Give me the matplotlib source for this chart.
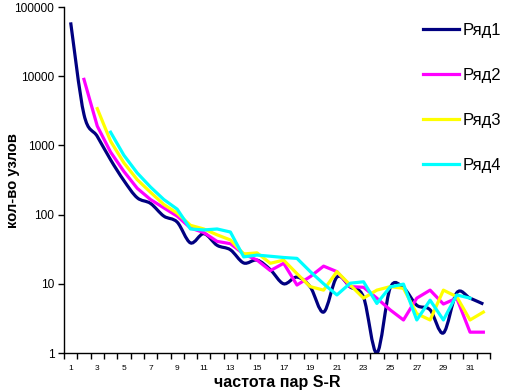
import numpy as np
import matplotlib
matplotlib.use("Agg")
import matplotlib.pyplot as plt
from matplotlib.path import Path
from matplotlib.patches import PathPatch
from matplotlib.lines import Line2D

categories = list(range(1, 33))
tick_labels = [str(k) for k in range(1, 32, 2)]

s1_x = list(range(1, 33))
s1 = [60000, 2800, 1350, 620, 310, 175, 145, 95, 78, 39, 53, 36, 31, 20, 22, 16,
      10, 12.5, 9, 3.9, 12.5, 9, 6.4, 1, 8.7, 8.7, 4.9, 4.2, 1.95, 7.4, 6.2, 5.1]
s2_x = list(range(2, 33))
s2 = [9000, 1900, 800, 420, 240, 165, 125, 95, 64, 55, 41, 38, 27, 22, 15.5,
      19.8, 9.6, 12.7, 18, 15, 9.1, 8.9, 6.2, 4.2, 3.0, 6.2, 8.1, 5.1, 6.2, 2.0, 2.0]
s3_x = list(range(3, 33))
s3 = [3400, 1150, 560, 320, 210, 140, 105, 70, 62, 51, 43, 27, 28, 19.8, 22,
      14, 9.1, 8.1, 15, 9.6, 6.2, 8.1, 9.1, 8.6, 3.7, 3.0, 8.1, 6.5, 3.0, 3.9]
s4_x = list(range(4, 32))
s4 = [1550, 720, 400, 250, 165, 120, 62, 60, 62, 56, 24.5, 26, 25, 24, 23.3,
      15, 10, 6.9, 10.2, 10.7, 5.2, 9.0, 9.9, 3.0, 5.8, 3.0, 6.9, 6.2]

names = ["Ряд1", "Ряд2", "Ряд3", "Ряд4"]
colors = ["#000080", "#FF00FF", "#FFFF00", "#00FFFF"]

plt.rcParams['font.family'] = ['Liberation Sans', 'DejaVu Sans']

fig = plt.figure(figsize=(5.08, 3.92), dpi=100)
ax = fig.add_axes([64/508, 1-353/392, (490-64)/508, (353-7)/392])
ax.set_yscale('log')
ax.set_ylim(1, 100000)
ax.set_xlim(0.5, 32.5)


def smooth_path(xs, ys):
    lx = np.asarray(xs, float)
    ly = np.log10(np.asarray(ys, float))
    n = len(lx)
    verts = [(lx[0], ly[0])]
    codes = [Path.MOVETO]
    for i in range(n - 1):
        p0 = np.array([lx[max(i-1, 0)], ly[max(i-1, 0)]])
        p1 = np.array([lx[i], ly[i]])
        p2 = np.array([lx[i+1], ly[i+1]])
        p3 = np.array([lx[min(i+2, n-1)], ly[min(i+2, n-1)]])
        c1 = p1 + (p2 - p0) / 6.0
        c2 = p2 - (p3 - p1) / 6.0
        verts += [tuple(c1), tuple(c2), tuple(p2)]
        codes += [Path.CURVE4] * 3
    verts = [(vx, 10 ** vy) for vx, vy in verts]
    return Path(verts, codes)


lw = 2.3
patch = PathPatch(smooth_path(s1_x, s1), facecolor='none', edgecolor=colors[0],
                  lw=lw, transform=ax.transData, zorder=2)
ax.add_patch(patch)
ax.plot(s2_x, s2, color=colors[1], lw=lw, zorder=3)
ax.plot(s3_x, s3, color=colors[2], lw=lw, zorder=4)
ax.plot(s4_x, s4, color=colors[3], lw=lw, zorder=5)

for sp in ['top', 'right']:
    ax.spines[sp].set_visible(False)
ax.spines['left'].set_linewidth(1)
ax.spines['bottom'].set_linewidth(1)

ax.set_yticks([1, 10, 100, 1000, 10000, 100000])
ax.set_yticklabels(['1', '10', '100', '1000', '10000', '100000'], fontsize=8.6)
ax.yaxis.set_minor_locator(matplotlib.ticker.NullLocator())
ax.tick_params(axis='y', which='major', direction='out', length=4, width=1, pad=3)

ax.set_xticks([c + 0.5 for c in [0] + categories])
ax.set_xticklabels([])
ax.set_xticks(list(range(1, 32, 2)), minor=True)
ax.set_xticklabels(tick_labels, minor=True, fontsize=6)
ax.tick_params(axis='x', which='major', direction='out', length=4, width=1)
ax.tick_params(axis='x', which='minor', length=0, pad=9)

ax.set_ylabel("кол-во узлов", fontsize=10.7, fontweight='bold')
ax.yaxis.set_label_coords((20 - 64) / 426, 0.5)
ax.set_xlabel("частота пар S-R", fontsize=11.5, fontweight='bold', labelpad=2)

handles = [Line2D([0], [0], color=c, lw=lw) for c in colors]
leg = fig.legend(handles, names, loc='upper left', bbox_to_anchor=(423/508, 1-23/392),
                 frameon=False, fontsize=12, handlelength=2.15, handletextpad=0.25,
                 labelspacing=1.8, borderpad=0, borderaxespad=0)

fig.savefig("out.png", dpi=100)
